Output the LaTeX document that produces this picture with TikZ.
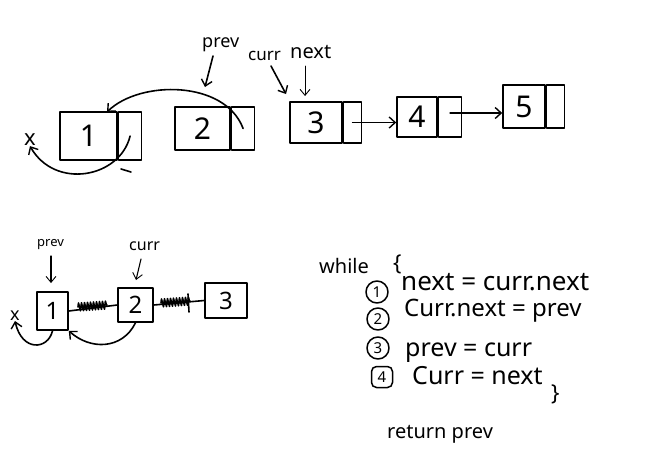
\documentclass[tikz,border=0pt]{standalone}
\usepackage{fontspec}
\setmainfont{Noto Sans}
\usetikzlibrary{arrows.meta,decorations.pathmorphing}
\begin{document}
\begin{tikzpicture}[x=1pt,y=-1pt,line cap=round,line join=round,
  ink/.style={line width=1.6pt},
  thin ink/.style={line width=0.9pt},
  cell/.style={draw,ink,inner sep=0pt,font=\fontsize{30}{30}\selectfont},
  smallcell/.style={draw,ink,inner sep=0pt,font=\fontsize{24}{24}\selectfont},
  ptr/.style={ink,-{Straight Barb[length=6pt,width=11pt,line width=1.4pt]}},
  thinptr/.style={thin ink,-{Straight Barb[length=6pt,width=10pt,line width=0.9pt]}},
  lbl/.style={inner sep=0pt,anchor=base west},
  circnum/.style={draw,circle,line width=1.5pt,minimum size=22pt,inner sep=0pt,font=\fontsize{15}{15}\selectfont},
  boxnum/.style={draw,rounded corners=5pt,line width=1.5pt,minimum size=21pt,inner sep=0pt,font=\fontsize{15}{15}\selectfont},
  scribble/.style={ink,decorate,decoration={zigzag,segment length=3pt,amplitude=4pt}}]
\useasboundingbox[fill=white] (0,0) rectangle (653,464);

% ---------- top list ----------
\node[cell,minimum width=57pt,minimum height=48pt] (t1) at (88.5,136) {1};
\node[cell,minimum width=23pt,minimum height=48pt,anchor=west] (t1p) at (t1.east) {};
\node[cell,minimum width=55pt,minimum height=43pt] (t2) at (202.5,128.5) {2};
\node[cell,minimum width=23pt,minimum height=43pt,anchor=west] (t2p) at (t2.east) {};
\node[cell,minimum width=52pt,minimum height=41pt] (t3) at (316,122.5) {3};
\node[cell,minimum width=18pt,minimum height=41pt,anchor=west] (t3p) at (t3.east) {};
\node[cell,minimum width=40pt,minimum height=40pt] (t4) at (417,117) {4};
\node[cell,minimum width=23pt,minimum height=40pt,anchor=west] (t4p) at (t4.east) {};
\node[cell,minimum width=42pt,minimum height=43pt] (t5) at (524,106.5) {5};
\node[cell,minimum width=18pt,minimum height=43pt,anchor=west] (t5p) at (t5.east) {};

\node[inner sep=0pt,font=\fontsize{22}{22}\selectfont] (tx) at (30,140) {x};

\draw[ptr] (t3p.center) -- (t3p.center -| t4.west);
\draw[ptr] ([yshift=4pt]t4p.center) -- ([yshift=4pt]t4p.center -| t5.west);

\coordinate (t1top) at (107,112);
\draw[ptr] (t2p.center) .. controls (225,80) and (140,80) .. (t1top);
\draw[ptr] (t1p.center) .. controls (120,178) and (55,190) .. (tx.south);
\draw[ink] (121,169) -- (131,172);

\node[lbl,font=\fontsize{18}{18}\selectfont] (lprev) at (202,47) {prev};
\node[lbl,font=\fontsize{17}{17}\selectfont] (lcurr) at (248,60) {curr};
\node[lbl,font=\fontsize{20}{20}\selectfont] (lnext) at (290,58) {next};
\coordinate (aprev) at (205,87);
\coordinate (acurr) at (286,94);
\coordinate (anext) at (305,96);
\draw[ptr] (213,56) -- (aprev);
\draw[ptr] (271,66) -- (acurr);
\draw[thinptr] (305,66) -- (anext);

% ---------- bottom list ----------
\node[smallcell,minimum width=31pt,minimum height=38pt] (b1) at (52.5,311) {1};
\node[smallcell,minimum width=35pt,minimum height=34pt] (b2) at (135.5,305) {2};
\node[smallcell,minimum width=42pt,minimum height=35pt] (b3) at (226,300.5) {3};
\node[inner sep=0pt,font=\fontsize{18}{18}\selectfont] (bx) at (15,316) {x};

\node[lbl,font=\fontsize{13}{13}\selectfont] (bprev) at (37,246) {prev};
\node[lbl,font=\fontsize{16}{16}\selectfont] (bcurr) at (129,250) {curr};
\coordinate (abprev) at (51,283);
\coordinate (abcurr) at (136,280);
\draw[thinptr,line width=1.1pt] (51,256) -- (abprev);
\draw[thinptr,line width=1.1pt] (141,259) -- (abcurr);

\draw[ink] (b1.east) -- (b2.west);
\draw[scribble] (78,307) -- (107,305);
\draw[ink] (b2.east) -- (b3.west);
\draw[scribble] (161,303) -- (190,301);
\draw[ink] (188,294) -- (189,312);

\draw[ptr] (b1.south) .. controls (48,350) and (22,352) .. (bx.south);
\draw[ptr] (b2.south) .. controls (122,350) and (90,350) .. (b1.south east);

% ---------- code ----------
\node[lbl,font=\fontsize{20}{20}\selectfont] (cwhile) at (319,273) {while};
\node[lbl,font=\fontsize{22}{22}\selectfont] (cbrace) at (393,270) {\{};
\node[circnum] (n1) at (377,292) {1};
\node[lbl,font=\fontsize{26}{26}\selectfont] (c1) at (401,290) {next = curr.next};
\node[circnum] (n2) at (378,319) {2};
\node[lbl,font=\fontsize{24}{24}\selectfont] (c2) at (404,316) {Curr.next = prev};
\node[circnum] (n3) at (378,348) {3};
\node[lbl,font=\fontsize{25}{25}\selectfont] (c3) at (405,356) {prev = curr};
\node[boxnum] (n4) at (382,377) {4};
\node[lbl,font=\fontsize{25}{25}\selectfont] (c4) at (412,384) {Curr = next};
\node[lbl,font=\fontsize{22}{22}\selectfont] (cend) at (551,400) {\}};
\node[lbl,font=\fontsize{20}{20}\selectfont] (cret) at (387,438) {return prev};
\end{tikzpicture}
\end{document}
